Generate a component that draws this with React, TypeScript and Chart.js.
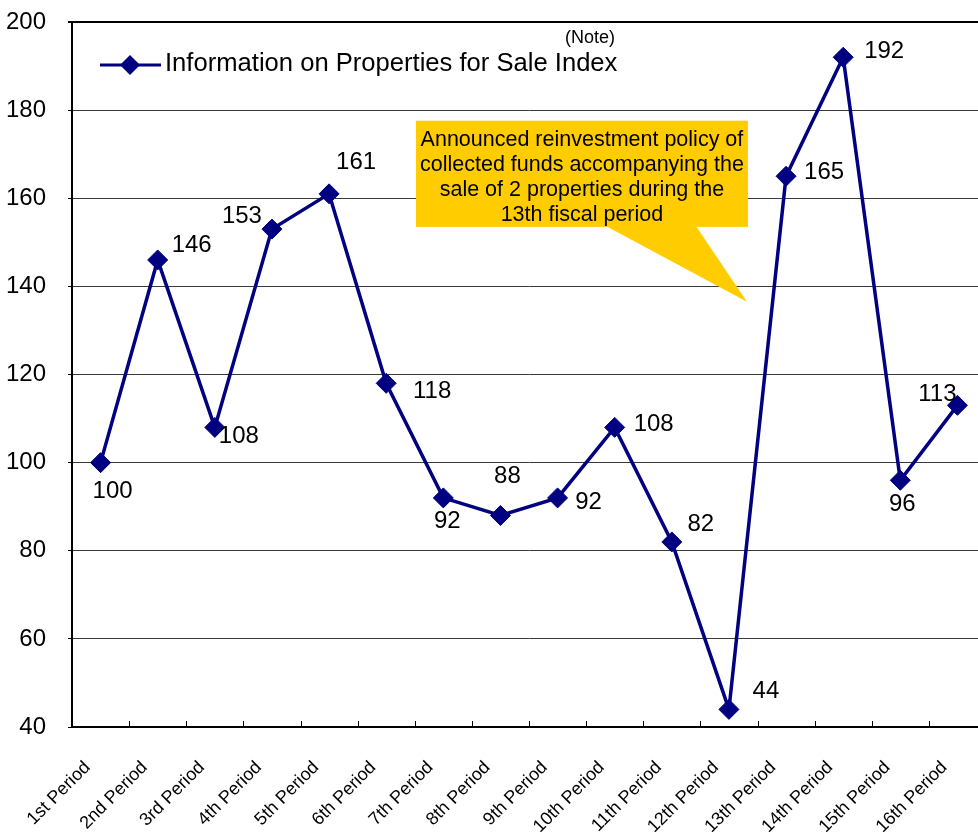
import React, { useEffect, useRef } from "react";
import { Chart, registerables } from "chart.js";

Chart.register(...registerables);

const categories = [
  "1st Period", "2nd Period", "3rd Period", "4th Period", "5th Period", "6th Period",
  "7th Period", "8th Period", "9th Period", "10th Period", "11th Period", "12th Period",
  "13th Period", "14th Period", "15th Period", "16th Period",
];
const indexValues = [100, 146, 108, 153, 161, 118, 92, 88, 92, 108, 82, 44, 165, 192, 96, 113];
const seriesLabel = "Information on Properties for Sale Index";
const noteText = "(Note)";
const calloutLines = [
  "Announced reinvestment policy of",
  "collected funds accompanying the",
  "sale of 2 properties during the",
  "13th fiscal period",
];
const yMin = 40;
const yMax = 200;
const yStep = 20;

// label placement relative to each point (text centre offset in px)
const labelOffsets: [number, number][] = [
  [12, 29], [34, -15], [24, 9], [-30, -13], [27, -31], [46, 8], [4, 23], [7, -39],
  [31, 4], [39, -3], [29, -18], [37, -18], [38, -4], [41, -6], [2, 24], [-20, -11],
];

const NAVY = "#000080";
const FONT = "'Liberation Sans', Arial, sans-serif";

const overlayPlugin = {
  id: "overlay",
  afterDatasetsDraw(chart: any) {
    const { ctx, chartArea, scales } = chart;
    const xs = scales.x;
    const ys = scales.y;
    ctx.save();

    // x tick marks inside plot at category boundaries
    ctx.strokeStyle = "#000";
    ctx.lineWidth = 1;
    for (let i = 1; i < categories.length; i++) {
      const x = Math.round((xs.getPixelForValue(i - 1) + xs.getPixelForValue(i)) / 2) + 0.5;
      ctx.beginPath();
      ctx.moveTo(x, chartArea.bottom);
      ctx.lineTo(x, chartArea.bottom - 6);
      ctx.stroke();
    }

    // data labels
    ctx.fillStyle = "#000";
    ctx.font = `24px ${FONT}`;
    ctx.textAlign = "center";
    ctx.textBaseline = "middle";
    const meta = chart.getDatasetMeta(0);
    meta.data.forEach((pt: any, i: number) => {
      const [dx, dy] = labelOffsets[i];
      ctx.fillText(String(indexValues[i]), pt.x + dx, pt.y + dy);
    });

    // legend
    const ly = chartArea.top + 43;
    const lx = chartArea.left + 28;
    ctx.strokeStyle = NAVY;
    ctx.lineWidth = 3;
    ctx.beginPath();
    ctx.moveTo(lx, ly);
    ctx.lineTo(lx + 61, ly);
    ctx.stroke();
    ctx.fillStyle = NAVY;
    ctx.beginPath();
    const cx = lx + 30;
    ctx.moveTo(cx - 10, ly);
    ctx.lineTo(cx, ly - 10);
    ctx.lineTo(cx + 10, ly);
    ctx.lineTo(cx, ly + 10);
    ctx.closePath();
    ctx.fill();
    ctx.fillStyle = "#000";
    ctx.textAlign = "left";
    ctx.font = `25.6px ${FONT}`;
    ctx.fillText(seriesLabel, lx + 65, ly - 1);
    ctx.font = `18px ${FONT}`;
    ctx.fillText(noteText, chartArea.left + 493, chartArea.top + 16);

    // callout
    const tipX = xs.getPixelForValue(11) + 18;
    const tipY = ys.getPixelForValue(136.5);
    const bx0 = tipX - 331;
    const bx1 = tipX + 1;
    const by0 = ys.getPixelForValue(177.6);
    const by1 = ys.getPixelForValue(153.5);
    ctx.fillStyle = "#FFCC00";
    ctx.fillRect(bx0, by0, bx1 - bx0, by1 - by0);
    ctx.beginPath();
    ctx.moveTo(bx0 + 190, by1 - 1);
    ctx.lineTo(bx0 + 280, by1 - 1);
    ctx.lineTo(tipX, tipY);
    ctx.closePath();
    ctx.fill();
    ctx.fillStyle = "#000";
    ctx.textAlign = "center";
    ctx.font = `21.5px ${FONT}`;
    const mid = (bx0 + bx1) / 2;
    calloutLines.forEach((t, i) => {
      ctx.fillText(t, mid, by0 + 19 + i * 25);
    });

    ctx.restore();
  },
};

export default function App() {
  const ref = useRef<HTMLCanvasElement | null>(null);
  useEffect(() => {
    if (!ref.current) return;
    const chart = new Chart(ref.current, {
      type: "line",
      data: {
        labels: categories,
        datasets: [
          {
            label: seriesLabel,
            data: indexValues,
            borderColor: NAVY,
            backgroundColor: NAVY,
            borderWidth: 3.5,
            pointStyle: "rectRot",
            pointRadius: 10,
            pointHoverRadius: 10,
            pointBackgroundColor: NAVY,
            pointBorderColor: NAVY,
            pointBorderWidth: 1,
            tension: 0,
            clip: false as any,
          },
        ],
      },
      options: {
        animation: false,
        responsive: false,
        maintainAspectRatio: false,
        layout: { padding: { top: 22, left: 0, right: 2, bottom: 0 } },
        plugins: {
          legend: { display: false },
          tooltip: { enabled: false },
        },
        scales: {
          x: {
            offset: true,
            grid: { display: false },
            border: { display: true, color: "#000", width: 2 },
            ticks: {
              minRotation: 45,
              maxRotation: 45,
              autoSkip: false,
              padding: 22,
              labelOffset: -13,
              color: "#000",
              font: { family: FONT, size: 18 },
            },
            afterFit(scale: any) {
              scale.height = 105;
              scale.paddingLeft = 0;
              scale.paddingRight = 0;
            },
          },
          y: {
            min: yMin,
            max: yMax,
            ticks: {
              stepSize: yStep,
              padding: 22,
              color: "#000",
              font: { family: FONT, size: 24 },
            },
            grid: {
              color: (c: any) => (c.tick && c.tick.value === yMax ? "#000" : "#3a3a3a"),
              lineWidth: (c: any) => (c.tick && c.tick.value === yMax ? 2 : 1),
              tickLength: 4,
              tickColor: "#000",
            },
            border: { display: true, color: "#000", width: 2 },
            afterFit(scale: any) {
              scale.width = 72;
              scale.paddingTop = 0;
              scale.paddingBottom = 0;
            },
          },
        },
      },
      plugins: [overlayPlugin],
    });
    return () => chart.destroy();
  }, []);
  return (
    <div
      style={{
        position: "fixed",
        left: 0,
        top: 0,
        width: 978,
        height: 832,
        overflow: "hidden",
        background: "#fff",
      }}
    >
      <canvas ref={ref} width={997} height={832} style={{ display: "block", width: 997, height: 832 }} />
    </div>
  );
}
